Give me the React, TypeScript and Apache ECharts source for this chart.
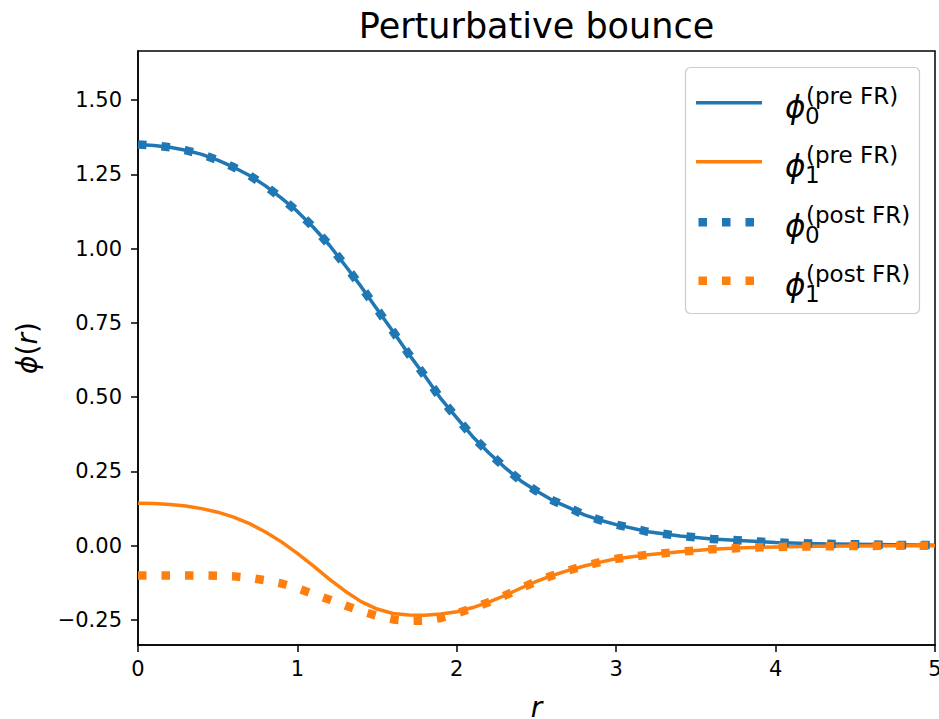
import React, { useEffect, useRef } from "react";
import * as echarts from "echarts";

const rValues = [0, 0.1, 0.2, 0.3, 0.4, 0.5, 0.6, 0.7, 0.8, 0.9, 1.0, 1.1, 1.2, 1.3, 1.4, 1.5, 1.6, 1.7, 1.8, 1.9, 2.0, 2.1, 2.2, 2.3, 2.4, 2.5, 2.6, 2.7, 2.8, 2.9, 3.0, 3.2, 3.4, 3.6, 3.8, 4.0, 4.25, 4.5, 4.75, 5.0];

const phi0Pre = [1.35, 1.347, 1.341, 1.331, 1.317, 1.298, 1.274, 1.246, 1.211, 1.17, 1.125, 1.072, 1.012, 0.943, 0.872, 0.796, 0.721, 0.644, 0.571, 0.495, 0.43, 0.367, 0.313, 0.264, 0.219, 0.184, 0.153, 0.129, 0.104, 0.086, 0.071, 0.047, 0.033, 0.023, 0.017, 0.011, 0.007, 0.005, 0.003, 0.002];

const phi1Pre = [0.143, 0.142, 0.139, 0.1335, 0.125, 0.113, 0.0965, 0.0745, 0.0465, 0.013, -0.0255, -0.068, -0.112, -0.153, -0.188, -0.213, -0.228, -0.233, -0.234, -0.23, -0.222, -0.208, -0.19, -0.168, -0.143, -0.12, -0.1, -0.083, -0.068, -0.055, -0.044, -0.03, -0.02, -0.012, -0.007, -0.004, -0.002, -0.001, 0, 0];

const phi0Post = [1.35, 1.347, 1.341, 1.331, 1.317, 1.298, 1.274, 1.246, 1.211, 1.17, 1.125, 1.072, 1.012, 0.943, 0.872, 0.796, 0.721, 0.644, 0.571, 0.495, 0.43, 0.367, 0.313, 0.264, 0.219, 0.184, 0.153, 0.129, 0.104, 0.086, 0.071, 0.047, 0.033, 0.023, 0.017, 0.011, 0.007, 0.005, 0.003, 0.002];

const phi1Post = [-0.1, -0.1, -0.1, -0.1, -0.1, -0.101, -0.103, -0.108, -0.116, -0.127, -0.143, -0.163, -0.181, -0.201, -0.22, -0.236, -0.248, -0.253, -0.252, -0.243, -0.228, -0.209, -0.19, -0.168, -0.143, -0.12, -0.1, -0.083, -0.068, -0.055, -0.044, -0.03, -0.02, -0.012, -0.007, -0.004, -0.002, -0.001, 0, 0];

const yTicks = [-0.25, 0, 0.25, 0.5, 0.75, 1.0, 1.25, 1.5];
const xTicks = [0, 1, 2, 3, 4, 5];

const legendEntries = [
  { sub: "0", sup: "(pre FR)", color: "#1f77b4", dotted: false },
  { sub: "1", sup: "(pre FR)", color: "#ff7f0e", dotted: false },
  { sub: "0", sup: "(post FR)", color: "#1f77b4", dotted: true },
  { sub: "1", sup: "(post FR)", color: "#ff7f0e", dotted: true },
];

const FONT = "DejaVu Sans";
const BLUE = "#1f77b4";
const ORANGE = "#ff7f0e";

const toPairs = (ys: number[]) => rValues.map((r, i) => [r, ys[i]]);

export default function App() {
  const ref = useRef<HTMLDivElement>(null);
  useEffect(() => {
    if (!ref.current) return;
    const chart = echarts.init(ref.current, null, { renderer: "svg" });
    const solid = (color: string) => ({ color, width: 3.5, type: "solid" as const, cap: "butt" as const, join: "round" as const });
    const dotted = (color: string) => ({ color, width: 8.5, type: [8.5, 15] as any, cap: "butt" as const });

    const legendY = [102.7, 161.7, 222.3, 280.7];
    const legendGraphics: any[] = [
      {
        type: "rect",
        shape: { x: 685.5, y: 67.5, width: 234, height: 246, r: 5 },
        style: { fill: "rgba(255,255,255,0.85)", stroke: "#cccccc", lineWidth: 1.2 },
        z: 100,
      },
    ];
    legendEntries.forEach((e, i) => {
      const L = legendY[i];
      legendGraphics.push({
        type: "line",
        shape: { x1: e.dotted ? 698.5 : 696, y1: L, x2: 762, y2: L },
        style: {
          stroke: e.color,
          lineWidth: e.dotted ? 8.5 : 3.5,
          lineDash: e.dotted ? [8.5, 15] : null,
          lineCap: "butt",
        },
        z: 101,
      });
      legendGraphics.push({
        type: "text",
        x: 785,
        y: L + 4,
        style: { text: "ϕ", font: `italic 31px '${FONT}'`, fill: "#000", align: "left", verticalAlign: "middle" },
        z: 101,
      });
      legendGraphics.push({
        type: "text",
        x: 806,
        y: L - 7,
        style: { text: e.sup, font: `23px '${FONT}'`, fill: "#000", align: "left", verticalAlign: "middle" },
        z: 101,
      });
      legendGraphics.push({
        type: "text",
        x: 805,
        y: L + 13,
        style: { text: e.sub, font: `23px '${FONT}'`, fill: "#000", align: "left", verticalAlign: "middle" },
        z: 101,
      });
    });

    chart.setOption({
      animation: false,
      backgroundColor: "#ffffff",
      textStyle: { fontFamily: FONT },
      grid: {
        left: 138,
        right: 4,
        top: 51,
        bottom: 74,
        show: true,
        borderColor: "#000",
        borderWidth: 1.5,
        backgroundColor: "transparent",
        containLabel: false,
        outerBoundsMode: "none",
      },
      graphic: [
        {
          type: "text",
          x: 536.5,
          y: 26,
          style: { text: "Perturbative bounce", font: `35px '${FONT}'`, fill: "#000", align: "center", verticalAlign: "middle" },
        },
        ...legendGraphics,
      ],
      xAxis: {
        type: "value",
        min: 0,
        max: 5,
        interval: 1,
        name: "r",
        nameLocation: "middle",
        nameGap: 52,
        nameTextStyle: { fontFamily: FONT, fontSize: 28, lineHeight: 20, fontStyle: "italic", color: "#000" },
        axisLine: { show: true, onZero: false, lineStyle: { color: "#000", width: 1.5 } },
        axisTick: { show: true, length: 7, lineStyle: { color: "#000", width: 1.5 }, customValues: xTicks },
        axisLabel: { fontFamily: FONT, fontSize: 21, color: "#000", margin: 13, customValues: xTicks },
        splitLine: { show: false },
      },
      yAxis: {
        type: "value",
        min: -0.334,
        max: 1.665,
        name: "{i|ϕ}{n|(}{i|r}{n|)}",
        nameLocation: "middle",
        nameRotate: 90,
        nameGap: 97,
        nameTextStyle: {
          color: "#000",
          rich: {
            i: { fontFamily: FONT, fontSize: 28, fontStyle: "italic", color: "#000" },
            n: { fontFamily: FONT, fontSize: 28, color: "#000" },
          },
        },
        axisLine: { show: true, onZero: false, lineStyle: { color: "#000", width: 1.5 } },
        axisTick: { show: true, length: 7, lineStyle: { color: "#000", width: 1.5 }, customValues: yTicks },
        axisLabel: {
          fontFamily: FONT,
          fontSize: 21,
          color: "#000",
          margin: 16,
          customValues: yTicks,
          formatter: (v: number) => (v < 0 ? "\u2212" + Math.abs(v).toFixed(2) : v.toFixed(2)),
        },
        splitLine: { show: false },
      },
      series: [
        { type: "line", name: "phi0 pre", data: toPairs(phi0Pre), showSymbol: false, smooth: false, lineStyle: solid(BLUE), z: 2 },
        { type: "line", name: "phi1 pre", data: toPairs(phi1Pre), showSymbol: false, smooth: false, lineStyle: solid(ORANGE), z: 2 },
        { type: "line", name: "phi0 post", data: toPairs(phi0Post), showSymbol: false, smooth: false, lineStyle: dotted(BLUE), z: 3 },
        { type: "line", name: "phi1 post", data: toPairs(phi1Post), showSymbol: false, smooth: false, lineStyle: dotted(ORANGE), z: 3 },
      ],
    });
    return () => chart.dispose();
  }, []);
  return <div ref={ref} style={{ position: "fixed", left: 0, top: 0, width: 939, height: 719, background: "#fff" }} />;
}
